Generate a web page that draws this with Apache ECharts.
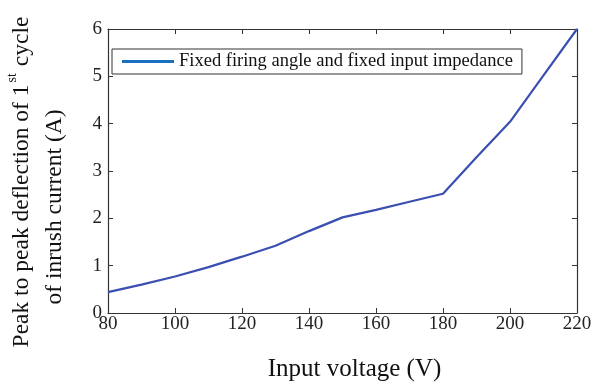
<!DOCTYPE html>
<html><head><meta charset="utf-8">
<script src="https://cdn.jsdelivr.net/npm/echarts@6/dist/echarts.min.js"></script>
<style>html,body{margin:0;padding:0;background:#fff}#c{width:595px;height:384px}</style>
</head><body><div id="c"></div>
<script>
const voltages = [80, 90, 100, 110, 120, 130, 140, 150, 160, 170, 180, 190, 200, 210, 220];
const current = [0.44, 0.6, 0.77, 0.97, 1.19, 1.42, 1.73, 2.02, 2.18, 2.35, 2.52, 3.29, 4.04, 5.02, 6.0];
const seriesName = 'Fixed firing angle and fixed input impedance';
const xTicks = [80, 100, 120, 140, 160, 180, 200, 220];
const yTicks = [0, 1, 2, 3, 4, 5, 6];

const font = 'Liberation Serif, Times New Roman, serif';
const chart = echarts.init(document.getElementById('c'));
const axisCommon = {
  axisLine: {show: true, onZero: false, lineStyle: {color: '#333', width: 1.2}},
  axisTick: {show: true, inside: true, length: 5, lineStyle: {color: '#333'}},
  splitLine: {show: false}
};
const nameFont = {fontFamily: font, fontSize: 23.5, color: '#111', lineHeight: 33};
chart.setOption({
  animation: false,
  grid: {left: 108, right: 18, top: 29, bottom: 71, containLabel: false, outerBoundsMode: 'none'},
  legend: {
    left: 112, top: 49,
    data: [{name: seriesName, icon: 'rect', itemStyle: {color: '#1a6fc0'}}],
    itemWidth: 52, itemHeight: 3, itemGap: 6,
    textStyle: {fontFamily: font, fontSize: 18.5, color: '#111'},
    borderColor: '#333', borderWidth: 1, padding: [3, 9, 3, 10],
    backgroundColor: '#fff'
  },
  xAxis: [
    Object.assign({type: 'value', min: 80, max: 220, interval: 20, position: 'bottom',
      axisLabel: {fontFamily: font, fontSize: 19, color: '#222', margin: 2},
      name: 'Input voltage (V)', nameLocation: 'middle', nameGap: 44,
      nameTextStyle: {fontFamily: font, fontSize: 25, color: '#111', padding: [0, 0, 0, 24]}}, axisCommon),
    Object.assign({type: 'value', min: 80, max: 220, interval: 20, position: 'top',
      axisLabel: {show: false}}, axisCommon)
  ],
  yAxis: [
    Object.assign({type: 'value', min: 0, max: 6, interval: 1, position: 'left',
      axisLabel: {fontFamily: font, fontSize: 19, color: '#222', margin: 6},
      name: '{a|Peak to peak deflection of 1}{sup|st}{c|cycle}\n{b|of inrush current (A)}',
      nameLocation: 'middle', nameGap: 37,
      nameTextStyle: Object.assign({}, nameFont, {
        rich: {
          a: nameFont,
          sup: {fontFamily: font, fontSize: 14, color: '#111', verticalAlign: 'top', padding: [0, 7, 12, 2]},
          c: Object.assign({}, nameFont, {padding: [0, 22, 0, 0]}),
          b: Object.assign({}, nameFont, {padding: [0, 72, 0, 0]})
        }})}, axisCommon),
    Object.assign({type: 'value', min: 0, max: 6, interval: 1, position: 'right',
      axisLabel: {show: false}}, axisCommon)
  ],
  series: [{
    name: seriesName, type: 'line', showSymbol: false, symbol: 'none',
    data: voltages.map((v, i) => [v, current[i]]),
    lineStyle: {color: '#3a4fb0', width: 2.2}, itemStyle: {color: '#3a4fb0'}
  }]
});
</script></body></html>
